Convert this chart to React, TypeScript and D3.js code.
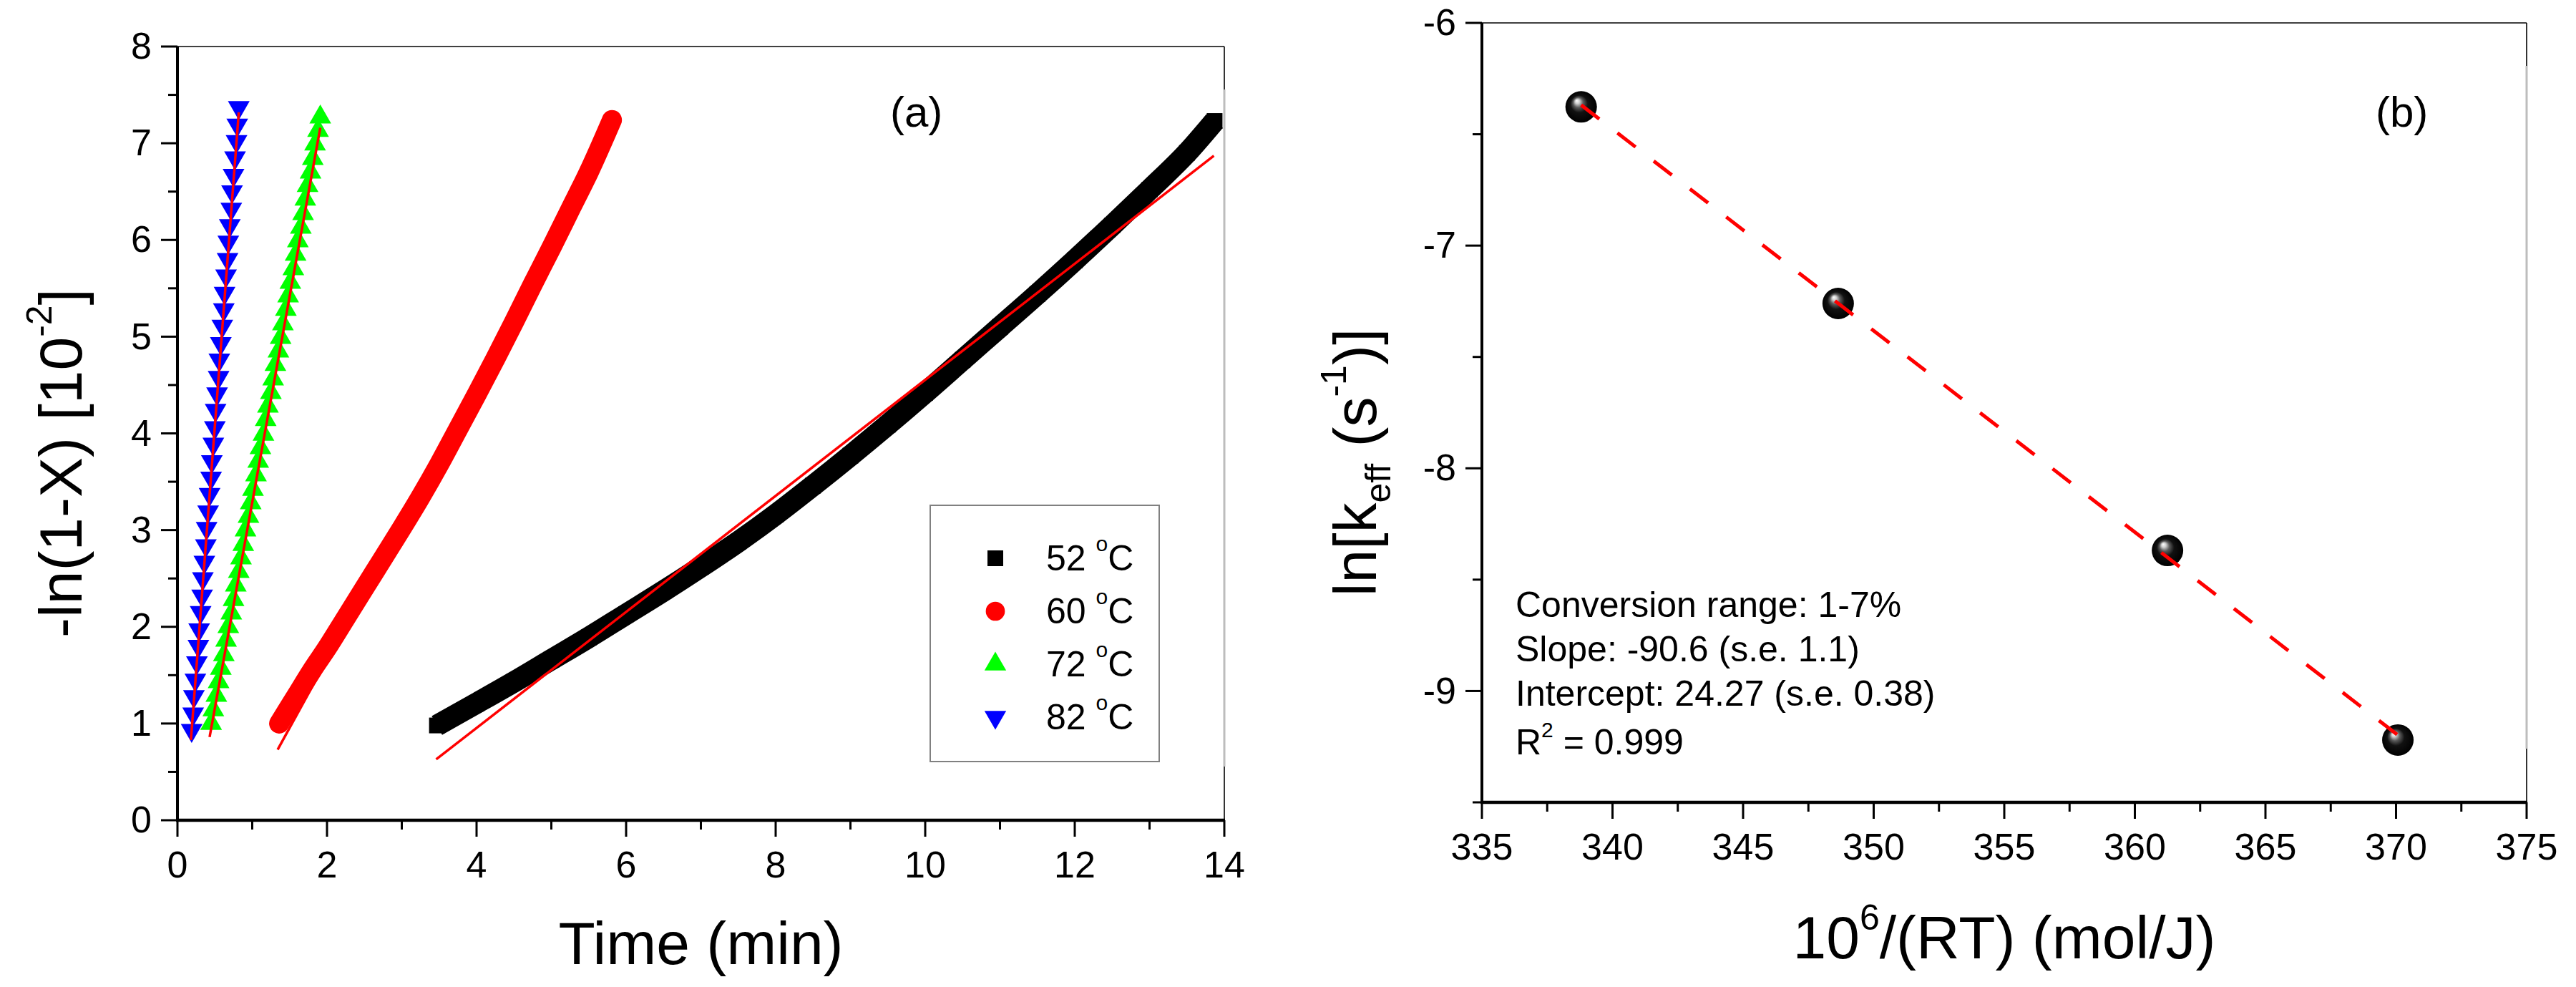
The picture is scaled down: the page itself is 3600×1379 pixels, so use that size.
import React from 'react';
import * as d3 from 'd3';

const FONT = '"Liberation Sans", Arial, Helvetica, sans-serif';

// ---- panel (a): -ln(1-X) [10^-2] against time (min) ----
const t52 = [3.47, 4.0, 4.5, 5.0, 5.5, 6.0, 6.5, 7.0, 7.5, 8.0, 8.5, 9.0, 9.5, 10.0, 10.5, 11.0, 11.5, 12.0, 12.5, 13.0, 13.5, 13.87];
const y52 = [0.98, 1.21, 1.43, 1.66, 1.89, 2.13, 2.37, 2.62, 2.88, 3.16, 3.46, 3.77, 4.09, 4.42, 4.76, 5.1, 5.44, 5.79, 6.15, 6.52, 6.9, 7.23];

const t60 = [1.36, 1.6, 1.8, 2.0, 2.25, 2.5, 2.75, 3.0, 3.25, 3.5, 3.75, 4.0, 4.25, 4.5, 4.75, 5.0, 5.25, 5.5, 5.81];
const y60 = [1.0, 1.3, 1.55, 1.78, 2.09, 2.4, 2.71, 3.02, 3.34, 3.68, 4.04, 4.4, 4.77, 5.15, 5.54, 5.92, 6.31, 6.7, 7.24];

const t72 = [0.45, 0.48, 0.52, 0.55, 0.58, 0.62, 0.65, 0.68, 0.72, 0.75, 0.78, 0.82, 0.85, 0.88, 0.91, 0.95, 0.98, 1.01, 1.05, 1.08, 1.11, 1.15, 1.18, 1.21, 1.25, 1.28, 1.31, 1.35, 1.38, 1.41, 1.45, 1.48, 1.51, 1.55, 1.58, 1.61, 1.65, 1.68, 1.71, 1.74, 1.78, 1.81, 1.84, 1.88, 1.91];
const y72 = [1.0, 1.14, 1.29, 1.43, 1.57, 1.71, 1.86, 2.0, 2.14, 2.28, 2.43, 2.57, 2.71, 2.85, 3.0, 3.14, 3.28, 3.42, 3.57, 3.71, 3.85, 3.99, 4.14, 4.28, 4.42, 4.56, 4.71, 4.85, 4.99, 5.13, 5.28, 5.42, 5.56, 5.7, 5.85, 5.99, 6.13, 6.27, 6.42, 6.56, 6.7, 6.84, 6.99, 7.13, 7.27];

const t82 = [0.19, 0.21, 0.22, 0.24, 0.26, 0.28, 0.29, 0.31, 0.33, 0.34, 0.36, 0.38, 0.39, 0.41, 0.43, 0.45, 0.46, 0.48, 0.5, 0.51, 0.53, 0.55, 0.56, 0.58, 0.6, 0.62, 0.63, 0.65, 0.67, 0.68, 0.7, 0.72, 0.73, 0.75, 0.77, 0.79, 0.8, 0.82];
const y82 = [0.93, 1.1, 1.28, 1.45, 1.63, 1.8, 1.97, 2.15, 2.32, 2.5, 2.67, 2.84, 3.02, 3.19, 3.37, 3.54, 3.71, 3.89, 4.06, 4.24, 4.41, 4.58, 4.76, 4.93, 5.11, 5.28, 5.45, 5.63, 5.8, 5.98, 6.15, 6.32, 6.5, 6.67, 6.85, 7.02, 7.19, 7.37];

// linear fits drawn over each series: [t start, y start, t end, y end]
const fits = [
  [3.46, 0.63, 13.86, 6.87],
  [1.34, 0.73, 5.79, 7.0],
  [0.43, 0.86, 1.91, 7.16],
  [0.18, 0.83, 0.82, 7.32],
];

const legendLabels = ['52', '60', '72', '82'];
const seriesColors = ['#000000', '#ff0000', '#00ff00', '#0000ff'];

const xTicksA = [0, 2, 4, 6, 8, 10, 12, 14];
const yTicksA = [0, 1, 2, 3, 4, 5, 6, 7, 8];

// ---- panel (b): Arrhenius plot ----
const invRT = [338.8, 348.64, 361.25, 370.07];
const lnK = [-6.377, -7.26, -8.369, -9.22];
const statLines = ['Conversion range: 1-7%', 'Slope: -90.6 (s.e. 1.1)', 'Intercept: 24.27 (s.e. 0.38)'];
const r2 = '0.999';

const xTicksB = [335, 340, 345, 350, 355, 360, 365, 370, 375];
const yTicksB = [-9, -8, -7, -6];

// layout
const W = 3600;
const H = 1379;
const A = { left: 248, right: 1711, top: 65, bottom: 1146 };
const B = { left: 2071, right: 3531, top: 32, bottom: 1121 };

const xA = d3.scaleLinear().domain([0, 14]).range([A.left, A.right]);
const yA = d3.scaleLinear().domain([0, 8]).range([A.bottom, A.top]);
const xB = d3.scaleLinear().domain([335, 375]).range([B.left, B.right]);
const yB = d3.scaleLinear().domain([-9.5, -6]).range([B.bottom, B.top]);

const square = d3.symbol().type(d3.symbolSquare).size(484)() || '';
const circle = d3.symbol().type(d3.symbolCircle).size(560)() || '';
const triangle = d3.symbol().type(d3.symbolTriangle).size(400)() || '';

type Box = { left: number; right: number; top: number; bottom: number };

function midTicks(major: number[]) {
  return major.slice(1).map((v, i) => (v + major[i]) / 2);
}

function Frame({ box, x, y, xTicks, yTicks, yExtraMinor = [] }: {
  box: Box;
  x: d3.ScaleLinear<number, number>;
  y: d3.ScaleLinear<number, number>;
  xTicks: number[];
  yTicks: number[];
  yExtraMinor?: number[];
}) {
  const xMinor = midTicks(xTicks);
  const yMinor = midTicks(yTicks).concat(yExtraMinor);
  const grayTop = box.top + 60;
  const grayBottom = box.bottom - 75;
  return (
    <g>
      {/* top and right frame */}
      <line x1={box.left} x2={box.right} y1={box.top} y2={box.top} stroke="#000" strokeWidth={1.6} />
      <line x1={box.right} x2={box.right} y1={box.top} y2={grayTop} stroke="#000" strokeWidth={1.6} />
      <line x1={box.right} x2={box.right} y1={grayTop} y2={grayBottom} stroke="#bdbdbd" strokeWidth={3} />
      <line x1={box.right} x2={box.right} y1={grayBottom} y2={box.bottom} stroke="#000" strokeWidth={1.6} />

      {/* left and bottom axes */}
      <line x1={box.left} x2={box.left} y1={box.top} y2={box.bottom + 2} stroke="#000" strokeWidth={4} />
      <line x1={box.left - 2} x2={box.right + 1} y1={box.bottom} y2={box.bottom} stroke="#000" strokeWidth={4.5} />

      {xTicks.map((v) => (
        <g key={'xt' + v}>
          <line x1={x(v)} x2={x(v)} y1={box.bottom} y2={box.bottom + 23} stroke="#000" strokeWidth={3} />
          <text x={x(v)} y={box.bottom + 80} textAnchor="middle" fontSize={52} fontFamily={FONT}>{String(v)}</text>
        </g>
      ))}
      {xMinor.map((v) => (
        <line key={'xm' + v} x1={x(v)} x2={x(v)} y1={box.bottom} y2={box.bottom + 13} stroke="#000" strokeWidth={3} />
      ))}
      {yTicks.map((v) => (
        <g key={'yt' + v}>
          <line x1={box.left - 23} x2={box.left} y1={y(v)} y2={y(v)} stroke="#000" strokeWidth={3} />
          <text x={box.left - 36} y={y(v)} dy="0.33em" textAnchor="end" fontSize={52} fontFamily={FONT}>{String(v)}</text>
        </g>
      ))}
      {yMinor.map((v) => (
        <line key={'ym' + v} x1={box.left - 13} x2={box.left} y1={y(v)} y2={y(v)} stroke="#000" strokeWidth={3} />
      ))}
    </g>
  );
}

function PanelA() {
  const line = d3.line<[number, number]>().x((d) => xA(d[0])).y((d) => yA(d[1])).curve(d3.curveMonotoneX);
  const p52 = d3.zip(t52, y52) as [number, number][];
  const p60 = d3.zip(t60, y60) as [number, number][];
  const p72 = d3.zip(t72, y72) as [number, number][];
  const p82 = d3.zip(t82, y82) as [number, number][];
  const legendRow = (i: number) => 780 + i * 74;
  const legendShape = [square, circle, triangle, triangle];

  return (
    <g>
      <Frame box={A} x={xA} y={yA} xTicks={xTicksA} yTicks={yTicksA} />

      {/* 52 C squares */}
      <path d={line(p52) || ''} fill="none" stroke={seriesColors[0]} strokeWidth={30} strokeLinejoin="round" />
      {p52.map((d, i) => (
        <path key={'s' + i} d={square} transform={`translate(${xA(d[0])},${yA(d[1])})`} fill={seriesColors[0]} />
      ))}

      {/* 60 C circles */}
      <path d={line(p60) || ''} fill="none" stroke={seriesColors[1]} strokeWidth={28} strokeLinecap="round" strokeLinejoin="round" />
      {p60.map((d, i) => (
        <path key={'c' + i} d={circle} transform={`translate(${xA(d[0])},${yA(d[1])})`} fill={seriesColors[1]} />
      ))}

      {/* 72 C up triangles */}
      {p72.map((d, i) => (
        <path key={'u' + i} d={triangle} transform={`translate(${xA(d[0])},${yA(d[1])})`} fill={seriesColors[2]} />
      ))}

      {/* 82 C down triangles */}
      {p82.map((d, i) => (
        <path key={'d' + i} d={triangle} transform={`translate(${xA(d[0])},${yA(d[1])}) rotate(180)`} fill={seriesColors[3]} />
      ))}

      {/* linear fits */}
      {fits.map((f, i) => (
        <line key={'f' + i} x1={xA(f[0])} y1={yA(f[1])} x2={xA(f[2])} y2={yA(f[3])} stroke="#ff0000" strokeWidth={3.5} />
      ))}

      <text x={1244} y={177} fontSize={60} fontFamily={FONT}>(a)</text>

      {/* legend */}
      <rect x={1300} y={706} width={320} height={358} fill="#fff" stroke="#808080" strokeWidth={2} />
      {legendLabels.map((lab, i) => (
        <g key={'lg' + lab}>
          <path
            d={legendShape[i]}
            transform={`translate(1391,${legendRow(i)})${i === 3 ? ' rotate(180)' : ''}`}
            fill={seriesColors[i]}
          />
          <text x={1462} y={legendRow(i) + 17} fontSize={50} fontFamily={FONT}>
            {lab + ' '}
            <tspan fontSize={30} dy={-27}>o</tspan>
            <tspan dy={27}>C</tspan>
          </text>
        </g>
      ))}

      {/* axis titles */}
      <text x={(A.left + A.right) / 2} y={1347} textAnchor="middle" fontSize={84} fontFamily={FONT}>Time (min)</text>
      <text transform="translate(114,647) rotate(-90)" textAnchor="middle" fontSize={84} fontFamily={FONT}>
        -ln(1-X) [10
        <tspan fontSize={50} dy={-42}>-2</tspan>
        <tspan dy={42}>]</tspan>
      </text>
    </g>
  );
}

function PanelB() {
  const pts = d3.zip(invRT, lnK) as [number, number][];
  // least squares line through the points
  const mx = d3.mean(invRT) as number;
  const my = d3.mean(lnK) as number;
  const sxy = d3.sum(pts, (d) => (d[0] - mx) * (d[1] - my));
  const sxx = d3.sum(invRT, (v) => (v - mx) * (v - mx));
  const slope = sxy / sxx;
  const icpt = my - slope * mx;
  const x0 = invRT[0];
  const x1 = invRT[invRT.length - 1];

  return (
    <g>
      <defs>
        <radialGradient id="ball" cx="0.5" cy="0.5" r="0.5" fx="0.36" fy="0.3">
          <stop offset="0" stopColor="#ffffff" />
          <stop offset="0.14" stopColor="#d0d0d0" />
          <stop offset="0.32" stopColor="#5a5a5a" />
          <stop offset="0.55" stopColor="#111111" />
          <stop offset="1" stopColor="#000000" />
        </radialGradient>
      </defs>
      <Frame box={B} x={xB} y={yB} xTicks={xTicksB} yTicks={yTicksB} yExtraMinor={[-9.5]} />

      {pts.map((d, i) => (
        <ellipse key={'p' + i} cx={xB(d[0])} cy={yB(d[1])} rx={22} ry={22} fill="url(#ball)" />
      ))}
      <line
        x1={xB(x0)}
        y1={yB(icpt + slope * x0)}
        x2={xB(x1)}
        y2={yB(icpt + slope * x1)}
        stroke="#ff0000"
        strokeWidth={5}
        strokeDasharray="32 32"
      />

      <text x={3320} y={177} fontSize={60} fontFamily={FONT}>(b)</text>

      {statLines.map((s, i) => (
        <text key={'st' + i} x={2118} y={862 + i * 62} fontSize={50} fontFamily={FONT}>{s}</text>
      ))}
      <text x={2118} y={1054} fontSize={50} fontFamily={FONT}>
        R<tspan fontSize={30} dy={-24}>2</tspan>
        <tspan dy={24}>{' = ' + r2}</tspan>
      </text>

      <text x={(B.left + B.right) / 2} y={1339} textAnchor="middle" fontSize={84} fontFamily={FONT}>
        10<tspan fontSize={50} dy={-40}>6</tspan>
        <tspan dy={40}>/(RT) (mol/J)</tspan>
      </text>
      <text transform="translate(1923,646) rotate(-90)" textAnchor="middle" fontSize={84} fontFamily={FONT}>
        ln[k
        <tspan fontSize={50} dy={20}>eff</tspan>
        <tspan dy={-20}> (s</tspan>
        <tspan fontSize={50} dy={-42}>-1</tspan>
        <tspan dy={42}>)]</tspan>
      </text>
    </g>
  );
}

export default function App() {
  return (
    <svg
      width={W}
      height={H}
      viewBox={`0 0 ${W} ${H}`}
      style={{ position: 'absolute', left: 0, top: 0, background: '#fff' }}
    >
      <rect width={W} height={H} fill="#fff" />
      <PanelA />
      <PanelB />
    </svg>
  );
}
